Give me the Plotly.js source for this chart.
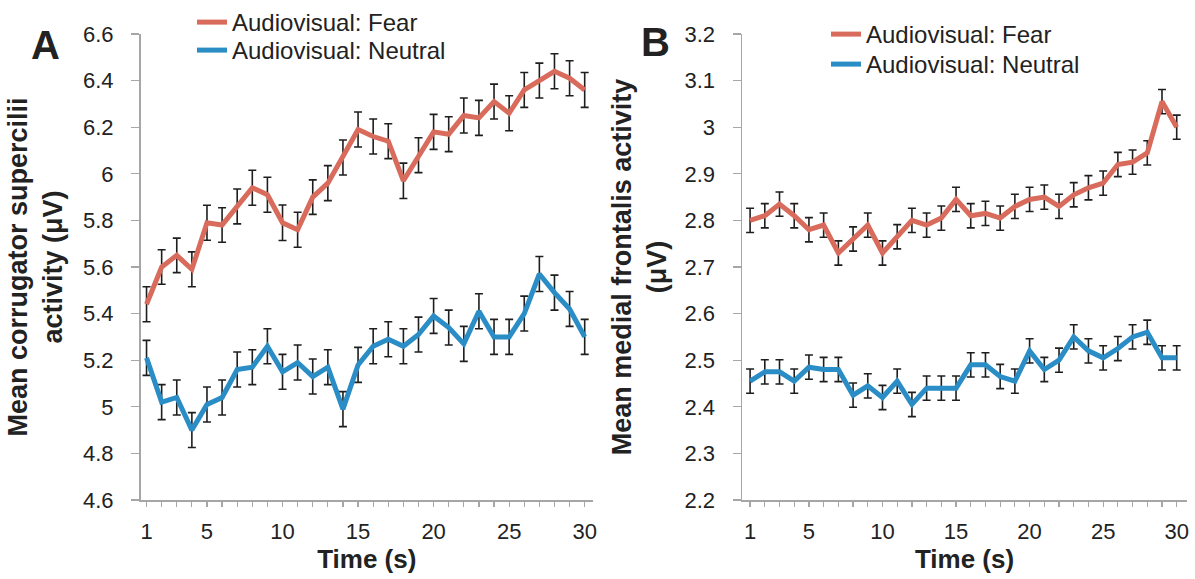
<!DOCTYPE html>
<html>
<head>
<meta charset="utf-8">
<script src="https://cdn.plot.ly/plotly-3.0.1.min.js"></script>
<style>html,body{margin:0;padding:0;background:#fff;}#chart{width:1195px;height:579px;}</style>
</head>
<body>
<div id="chart"></div>
<script>
const time = [1,2,3,4,5,6,7,8,9,10,11,12,13,14,15,16,17,18,19,20,21,22,23,24,25,26,27,28,29,30];
const xTickVals = [1,5,10,15,20,25,30];

// Panel A: corrugator supercilii (µV)
const fearA = [5.44,5.60,5.65,5.59,5.79,5.78,5.86,5.94,5.91,5.79,5.76,5.90,5.96,6.07,6.19,6.16,6.14,5.97,6.08,6.18,6.17,6.25,6.24,6.31,6.26,6.36,6.40,6.44,6.41,6.36];
const fearAErr = [0.075,0.074,0.074,0.075,0.075,0.074,0.075,0.075,0.075,0.076,0.075,0.074,0.075,0.075,0.075,0.075,0.075,0.076,0.075,0.075,0.075,0.075,0.075,0.075,0.075,0.075,0.075,0.075,0.075,0.075];
const neutralA = [5.21,5.02,5.04,4.90,5.01,5.04,5.16,5.17,5.26,5.15,5.19,5.13,5.17,4.99,5.18,5.26,5.29,5.26,5.31,5.39,5.34,5.27,5.41,5.30,5.30,5.40,5.57,5.49,5.42,5.30];
const neutralAErr = [0.075,0.075,0.075,0.075,0.075,0.075,0.075,0.075,0.075,0.075,0.075,0.075,0.075,0.075,0.075,0.075,0.075,0.075,0.075,0.075,0.075,0.075,0.075,0.075,0.075,0.075,0.075,0.075,0.075,0.075];

// Panel B: medial frontalis (µV)
const fearB = [2.80,2.81,2.835,2.81,2.78,2.79,2.73,2.76,2.79,2.73,2.765,2.80,2.79,2.805,2.845,2.81,2.815,2.805,2.83,2.845,2.85,2.83,2.855,2.87,2.88,2.92,2.925,2.945,3.055,3.00];
const fearBErr = [0.026,0.026,0.026,0.026,0.026,0.026,0.026,0.026,0.026,0.026,0.026,0.026,0.026,0.026,0.026,0.026,0.026,0.026,0.026,0.026,0.026,0.026,0.026,0.026,0.026,0.026,0.026,0.026,0.026,0.026];
const neutralB = [2.455,2.475,2.475,2.455,2.485,2.48,2.48,2.425,2.445,2.42,2.455,2.405,2.44,2.44,2.44,2.49,2.49,2.465,2.455,2.52,2.48,2.50,2.55,2.52,2.505,2.525,2.55,2.56,2.505,2.505];
const neutralBErr = [0.026,0.026,0.026,0.026,0.026,0.026,0.026,0.026,0.026,0.026,0.026,0.026,0.026,0.026,0.026,0.026,0.026,0.026,0.026,0.026,0.026,0.026,0.026,0.026,0.026,0.026,0.026,0.026,0.026,0.026];

const seriesNames = ['Audiovisual: Fear','Audiovisual: Neutral'];
const colFear = '#d86b5b';
const colNeutral = '#2a8dc5';

function err(arr){return {type:'data', array:arr, visible:true, color:'#1e1e1e', thickness:1.6, width:4};}

const traces = [
  {x:time, y:fearA, name:seriesNames[0], mode:'lines', line:{color:colFear, width:5}, error_y:err(fearAErr), xaxis:'x', yaxis:'y', legend:'legend'},
  {x:time, y:neutralA, name:seriesNames[1], mode:'lines', line:{color:colNeutral, width:5}, error_y:err(neutralAErr), xaxis:'x', yaxis:'y', legend:'legend3'},
  {x:time, y:fearB, name:seriesNames[0], mode:'lines', line:{color:colFear, width:5}, error_y:err(fearBErr), xaxis:'x2', yaxis:'y2', legend:'legend2'},
  {x:time, y:neutralB, name:seriesNames[1], mode:'lines', line:{color:colNeutral, width:5}, error_y:err(neutralBErr), xaxis:'x2', yaxis:'y2', legend:'legend4'}
];

const W = 1195, H = 579;
const axisGrey = '#a6a6a6';
function xAxis(d0, d1, r0, r1, anchor){
  return {domain:[d0/W, d1/W], range:[r0, r1], anchor:anchor, tickvals:xTickVals, ticks:'outside', ticklen:5, tickcolor:axisGrey, tickwidth:1.2,
    showline:true, linecolor:axisGrey, linewidth:1.5, showgrid:false, zeroline:false, ticklabelstandoff:6,
    tickfont:{size:22, color:'#222'},
    minor:{ticks:'outside', ticklen:5, tickcolor:axisGrey, tickwidth:1.2, tick0:0, dtick:1, showgrid:false},
    title:{text:'<b>Time (s)</b>', font:{size:26, color:'#222'}, standoff:2}};
}
function yAxis(r0, r1, dt, anchor, title, standoff){
  return {domain:[1-500/H, 1-34/H], range:[r0, r1], dtick:dt, anchor:anchor, ticks:'outside', ticklen:8, tickcolor:axisGrey, tickwidth:1.2,
    showline:true, linecolor:axisGrey, linewidth:1.5, showgrid:false, zeroline:false, ticklabelstandoff:13,
    tickfont:{size:22, color:'#222'},
    title:{text:title, font:{size:27, color:'#222'}, standoff:standoff}};
}
function leg(x, top){
  return {x:x/W, y:1-top/H, xanchor:'left', yanchor:'top', bgcolor:'rgba(0,0,0,0)', font:{size:24, color:'#222'}};
}

const layout = {
  width:W, height:H, margin:{l:0, r:0, t:0, b:0}, paper_bgcolor:'#fff', plot_bgcolor:'#fff',
  font:{family:'"Liberation Sans", Arial, sans-serif', color:'#222'},
  showlegend:true,
  xaxis: xAxis(140.5, 593, 0.6, 30.55, 'y'),
  yaxis: yAxis(4.6, 6.6, 0.2, 'x', '<b>Mean corrugator supercilii<br>activity (μV)</b>', 12),
  xaxis2: xAxis(742, 1187, 0.45, 30.7, 'y2'),
  yaxis2: yAxis(2.2, 3.2, 0.1, 'x2', '<b>Mean medial frontalis activity<br>(μV)</b>', 10),
  legend: leg(192, 0),
  legend3: leg(192, 28),
  legend2: leg(826, 12),
  legend4: leg(826, 42),
  annotations:[
    {text:'<b>A</b>', xref:'paper', yref:'paper', x:45/W, y:1-45/H, xanchor:'center', yanchor:'middle', showarrow:false, font:{size:40, color:'#222'}},
    {text:'<b>B</b>', xref:'paper', yref:'paper', x:655/W, y:1-42/H, xanchor:'center', yanchor:'middle', showarrow:false, font:{size:40, color:'#222'}}
  ]
};

Plotly.newPlot('chart', traces, layout, {displayModeBar:false, staticPlot:true});
</script>
</body>
</html>
